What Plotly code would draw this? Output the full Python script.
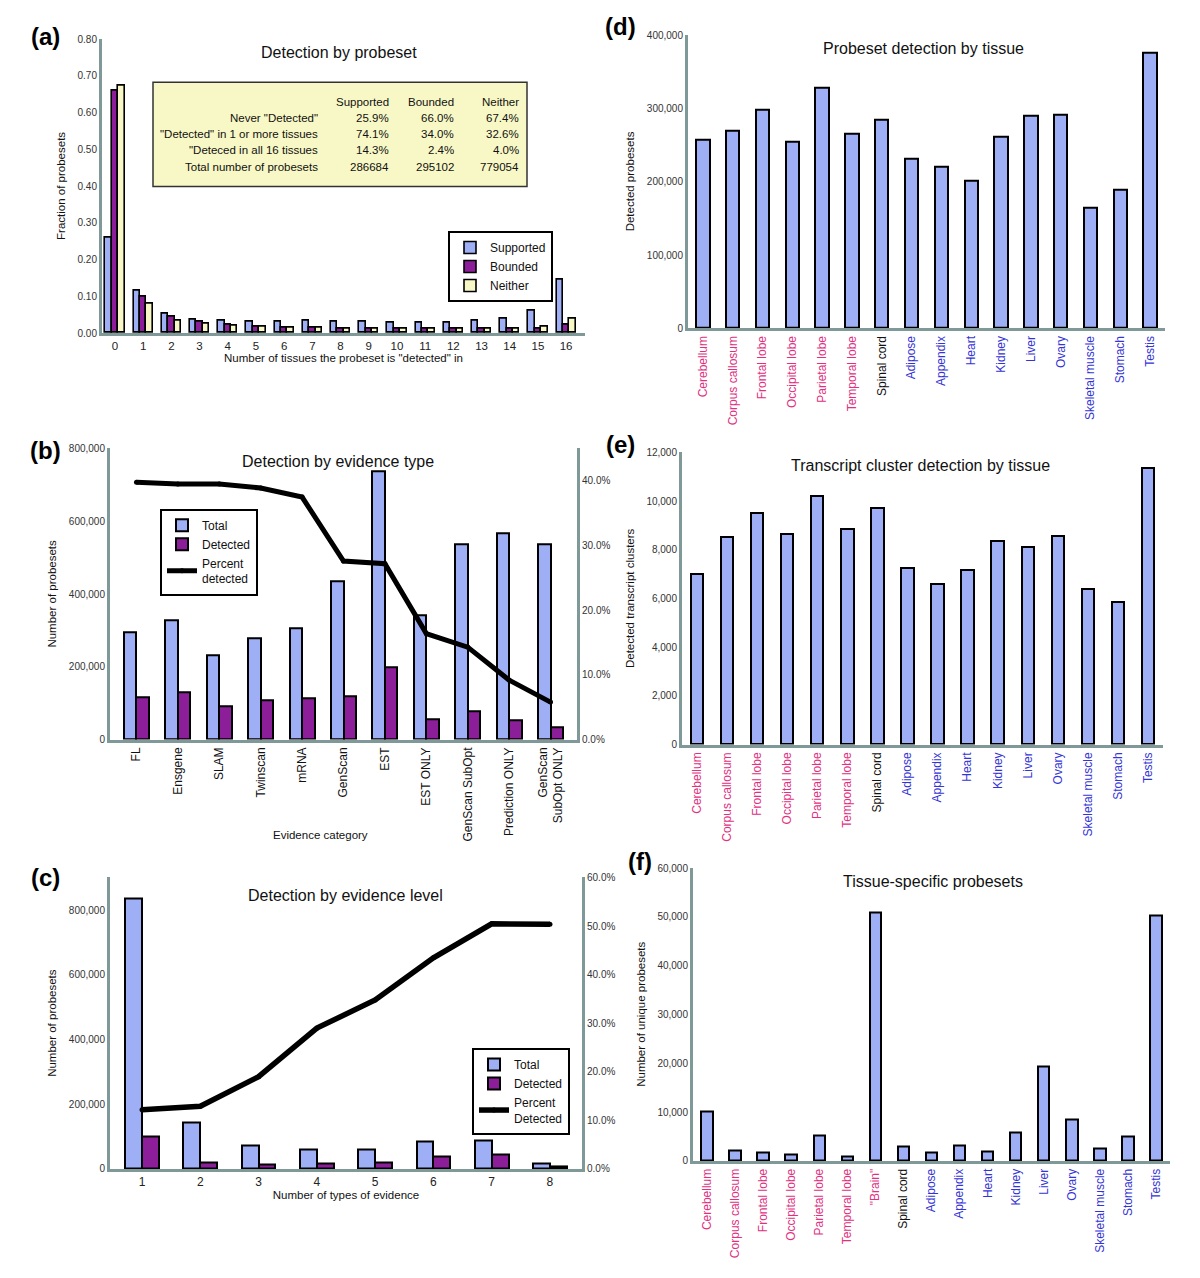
import plotly.graph_objects as go

W, H = 1200, 1278

# ---- (a) detection by probeset ----
n_tissues = list(range(17))
frac_supported = [0.26, 0.115, 0.053, 0.037, 0.033, 0.032, 0.032, 0.033, 0.031, 0.030, 0.028,
                  0.028, 0.029, 0.033, 0.039, 0.060, 0.145]
frac_bounded = [0.660, 0.100, 0.045, 0.030, 0.022, 0.018, 0.015, 0.014, 0.013, 0.012, 0.011,
                0.011, 0.011, 0.011, 0.012, 0.013, 0.024]
frac_neither = [0.672, 0.080, 0.035, 0.025, 0.020, 0.017, 0.015, 0.014, 0.013, 0.012, 0.011,
                0.011, 0.011, 0.011, 0.013, 0.018, 0.040]

table_cols = ['Supported', 'Bounded', 'Neither']
table_rows = ['Never "Detected"', '"Detected" in 1 or more tissues',
              '"Deteced in all 16 tissues', 'Total number of probesets']
table_vals = [['25.9%', '66.0%', '67.4%'],
              ['74.1%', '34.0%', '32.6%'],
              ['14.3%', '2.4%', '4.0%'],
              ['286684', '295102', '779054']]

# ---- (b) detection by evidence type ----
evidence_types = ['FL', 'Ensgene', 'SLAM', 'Twinscan', 'mRNA', 'GenScan', 'EST', 'EST ONLY',
                  'GenScan SubOpt', 'Prediction ONLY', 'GenScan<br>SubOpt ONLY']
type_total = [295000, 328000, 232000, 278000, 305000, 435000, 738000, 343000, 538000, 568000, 538000]
type_detected = [117000, 130000, 92000, 108000, 115000, 120000, 200000, 57000, 78000, 53000, 33000]
type_pct = [39.8, 39.5, 39.5, 38.9, 37.5, 27.6, 27.2, 16.4, 14.3, 9.2, 5.8]

# ---- (c) detection by evidence level ----
n_evidence = [1, 2, 3, 4, 5, 6, 7, 8]
level_total = [835000, 145000, 73000, 61000, 60000, 86000, 89000, 17000]
level_detected = [101000, 19000, 14000, 18000, 21000, 38000, 44000, 9000]
level_pct = [12.2, 12.9, 19.0, 29.0, 34.8, 43.5, 50.5, 50.4]

# ---- (d), (e), (f) by tissue ----
tissues = ['Cerebellum', 'Corpus callosum', 'Frontal lobe', 'Occipital lobe', 'Parietal lobe',
           'Temporal lobe', 'Spinal cord', 'Adipose', 'Appendix', 'Heart', 'Kidney', 'Liver',
           'Ovary', 'Skeletal muscle', 'Stomach', 'Testis']
tissue_group = ['brain'] * 6 + ['cord'] + ['body'] * 9
probeset_by_tissue = [258000, 270000, 299000, 255000, 328000, 266000, 285000, 232000, 221000,
                      202000, 261000, 290000, 292000, 164000, 189000, 377000]
cluster_by_tissue = [7000, 8530, 9520, 8650, 10200, 8840, 9720, 7250, 6600, 7190, 8350, 8100,
                     8570, 6370, 5850, 11350]

tissues_f = tissues[:6] + ['"Brain"'] + tissues[6:]
tissue_group_f = tissue_group[:6] + ['brain'] + tissue_group[6:]
unique_by_tissue = [10200, 2100, 1800, 1400, 5300, 1000, 50800, 2900, 1800, 3100, 1900, 5900,
                    19300, 8500, 2600, 5000, 50300]

BLUE = '#9EAFF6'
PURPLE = '#8C1F99'
YELLOW = '#F8F8C6'
AXIS = '#7F9999'
GROUP_COLORS = {'brain': '#E2307F', 'cord': '#111111', 'body': '#3434D6'}
FONT = 'Liberation Sans, Arial, sans-serif'


def dx(a, b):
    return [a / W, b / W]


def dy(top, bottom):
    return [1 - bottom / H, 1 - top / H]


def colored(labels, groups):
    return ['<span style="color:%s">%s</span>' % (GROUP_COLORS[g], t) for t, g in zip(labels, groups)]


def note(text, x, y, size, anchor='center', color='#111'):
    fig.add_annotation(x=x / W, y=1 - y / H, xref='paper', yref='paper', text=text, showarrow=False,
                       xanchor=anchor, yanchor='middle', font=dict(size=size, color=color))


fig = go.Figure()
edge = dict(color='black', width=2)

# (a)
for name, vals, col, off in [('Supported', frac_supported, BLUE, -0.34),
                             ('Bounded', frac_bounded, PURPLE, -0.113),
                             ('Neither', frac_neither, YELLOW, 0.114)]:
    fig.add_trace(go.Bar(x=n_tissues, y=vals, name=name, marker=dict(color=col, line=dict(color='black', width=1.6)),
                         width=0.226, offset=off, xaxis='x', yaxis='y', legend='legend'))

# (b)
fig.add_trace(go.Bar(x=evidence_types, y=type_total, name='Total', marker=dict(color=BLUE, line=edge),
                     width=0.3, offset=-0.3, xaxis='x2', yaxis='y2', legend='legend2'))
fig.add_trace(go.Bar(x=evidence_types, y=type_detected, name='Detected', marker=dict(color=PURPLE, line=edge),
                     width=0.3, offset=0.0, xaxis='x2', yaxis='y2', legend='legend2'))
fig.add_trace(go.Scatter(x=evidence_types, y=type_pct, name='Percent<br>detected', mode='lines+markers',
                         line=dict(color='black', width=5), marker=dict(color='black', size=5),
                         xaxis='x2', yaxis='y3', legend='legend2'))

# (c)
fig.add_trace(go.Bar(x=n_evidence, y=level_total, name='Total', marker=dict(color=BLUE, line=edge),
                     width=0.29, offset=-0.29, xaxis='x3', yaxis='y4', legend='legend3'))
fig.add_trace(go.Bar(x=n_evidence, y=level_detected, name='Detected', marker=dict(color=PURPLE, line=edge),
                     width=0.29, offset=0.0, xaxis='x3', yaxis='y4', legend='legend3'))
fig.add_trace(go.Scatter(x=n_evidence, y=level_pct, name='Percent<br>Detected', mode='lines+markers',
                         line=dict(color='black', width=5.5), marker=dict(color='black', size=5),
                         xaxis='x3', yaxis='y5', legend='legend3'))

# (d), (e), (f)
fig.add_trace(go.Bar(x=tissues, y=probeset_by_tissue, marker=dict(color=BLUE, line=edge), width=0.45,
                     showlegend=False, xaxis='x4', yaxis='y6'))
fig.add_trace(go.Bar(x=tissues, y=cluster_by_tissue, marker=dict(color=BLUE, line=edge), width=0.41,
                     showlegend=False, xaxis='x5', yaxis='y7'))
fig.add_trace(go.Bar(x=tissues_f, y=unique_by_tissue, marker=dict(color=BLUE, line=edge), width=0.41,
                     showlegend=False, xaxis='x6', yaxis='y8'))

base = dict(showgrid=False, zeroline=False, showline=True, linecolor=AXIS, linewidth=3, ticks='',
            tickfont=dict(size=10, color='#333'), title_font=dict(size=11.5, color='#111'))


def ax(domain, anchor, **kw):
    d = dict(base, domain=domain, anchor=anchor)
    d.update(kw)
    return d


layout = dict(
    width=W, height=H, margin=dict(l=0, r=0, t=0, b=0), plot_bgcolor='white', paper_bgcolor='white',
    font=dict(family=FONT, color='#111'), barmode='overlay', bargap=0,
    xaxis=ax(dx(102, 585), 'y', range=[-0.46, 16.67], tickvals=n_tissues, tickfont=dict(size=11.5, color='#222'),
             title=dict(text='Number of tissues the probeset is "detected" in', standoff=0)),
    yaxis=ax(dy(34, 331), 'x', range=[0, 0.801], dtick=0.1, tickformat='.2f',
             title=dict(text='Fraction of probesets', standoff=10)),
    xaxis2=ax(dx(110, 577), 'y2', tickangle=-90, tickfont=dict(size=12, color='#111')),
    yaxis2=ax(dy(447, 741), 'x2', range=[0, 801000], dtick=200000, tickformat=',',
              title=dict(text='Number of probesets', standoff=10)),
    yaxis3=ax(dy(447, 741), 'x2', overlaying='y2', side='right', range=[0, 45.06], dtick=10,
              tickformat='.1f', ticksuffix='%'),
    xaxis3=ax(dx(110, 582), 'y4', range=[0.45, 8.55], tickvals=n_evidence, tickfont=dict(size=12, color='#222'),
              title=dict(text='Number of types of evidence', standoff=0)),
    yaxis4=ax(dy(880, 1174), 'x3', range=[0, 901000], dtick=200000, tickformat=',',
              title=dict(text='Number of probesets', standoff=10)),
    yaxis5=ax(dy(880, 1174), 'x3', overlaying='y4', side='right', range=[0, 60.05], dtick=10,
              tickformat='.1f', ticksuffix='%'),
    xaxis4=ax(dx(688, 1165), 'y6', tickangle=-90, tickvals=tissues, ticktext=colored(tissues, tissue_group),
              tickfont=dict(size=12)),
    yaxis6=ax(dy(30, 326), 'x4', range=[0, 401000], dtick=100000, tickformat=',',
              title=dict(text='Detected probesets', standoff=10)),
    xaxis5=ax(dx(682, 1163), 'y7', tickangle=-90, tickvals=tissues, ticktext=colored(tissues, tissue_group),
              tickfont=dict(size=12)),
    yaxis7=ax(dy(451, 746), 'x5', range=[0, 12020], dtick=2000, tickformat=',',
              title=dict(text='Detected transcript clusters', standoff=10)),
    xaxis6=ax(dx(693, 1170), 'y8', tickangle=-90, tickvals=tissues_f, ticktext=colored(tissues_f, tissue_group_f),
              tickfont=dict(size=12)),
    yaxis8=ax(dy(870, 1166), 'x6', range=[0, 60100], dtick=10000, tickformat=',',
              title=dict(text='Number of unique probesets', standoff=10)),
)

leg = dict(bgcolor='white', bordercolor='black', borderwidth=2, font=dict(size=12, color='#111'),
           xanchor='left', yanchor='top', tracegroupgap=0, itemwidth=30)
layout['legend'] = dict(leg, x=448 / W, y=1 - 228 / H)
layout['legend2'] = dict(leg, x=160 / W, y=1 - 508 / H)
layout['legend3'] = dict(leg, x=472 / W, y=1 - 1052 / H)

fig.update_layout(**layout)

# table inside (a)
fig.add_shape(type='rect', xref='paper', yref='paper', x0=153 / W, x1=527 / W, y0=1 - 183 / H, y1=1 - 78 / H,
              fillcolor=YELLOW, line=dict(color='#333', width=1.5), layer='above')
col_right = [391, 456, 521]
row_y = [114, 130, 146, 163]
for j, c in enumerate(table_cols):
    note(c, col_right[j], 98, 11.5, anchor='right')
for i, r in enumerate(table_rows):
    note(r, 320, row_y[i], 11.5, anchor='right')
    for j in range(3):
        note(table_vals[i][j], col_right[j], row_y[i], 11.5, anchor='right')

# panel titles
titles = [('Detection by probeset', 339, 48), ('Detection by evidence type', 338, 460),
          ('Detection by evidence level', 345, 898), ('Probeset detection by tissue', 923, 44),
          ('Transcript cluster detection by tissue', 920, 465), ('Tissue-specific probesets', 933, 884)]
for t, x, y in titles:
    note(t, x, y, 16)

# x-axis title of (b) sits between the long rotated labels
note('Evidence category', 320, 837, 11.5)

# panel letters
letters = [('(a)', 45, 32), ('(b)', 45, 449), ('(c)', 45, 880), ('(d)', 620, 22), ('(e)', 620, 443), ('(f)', 640, 864)]
for t, x, y in letters:
    note('<b>%s</b>' % t, x, y, 24, color='black')

fig.write_html("out.html", config={'displayModeBar': False},
               post_script="document.body.style.margin='0px';")
